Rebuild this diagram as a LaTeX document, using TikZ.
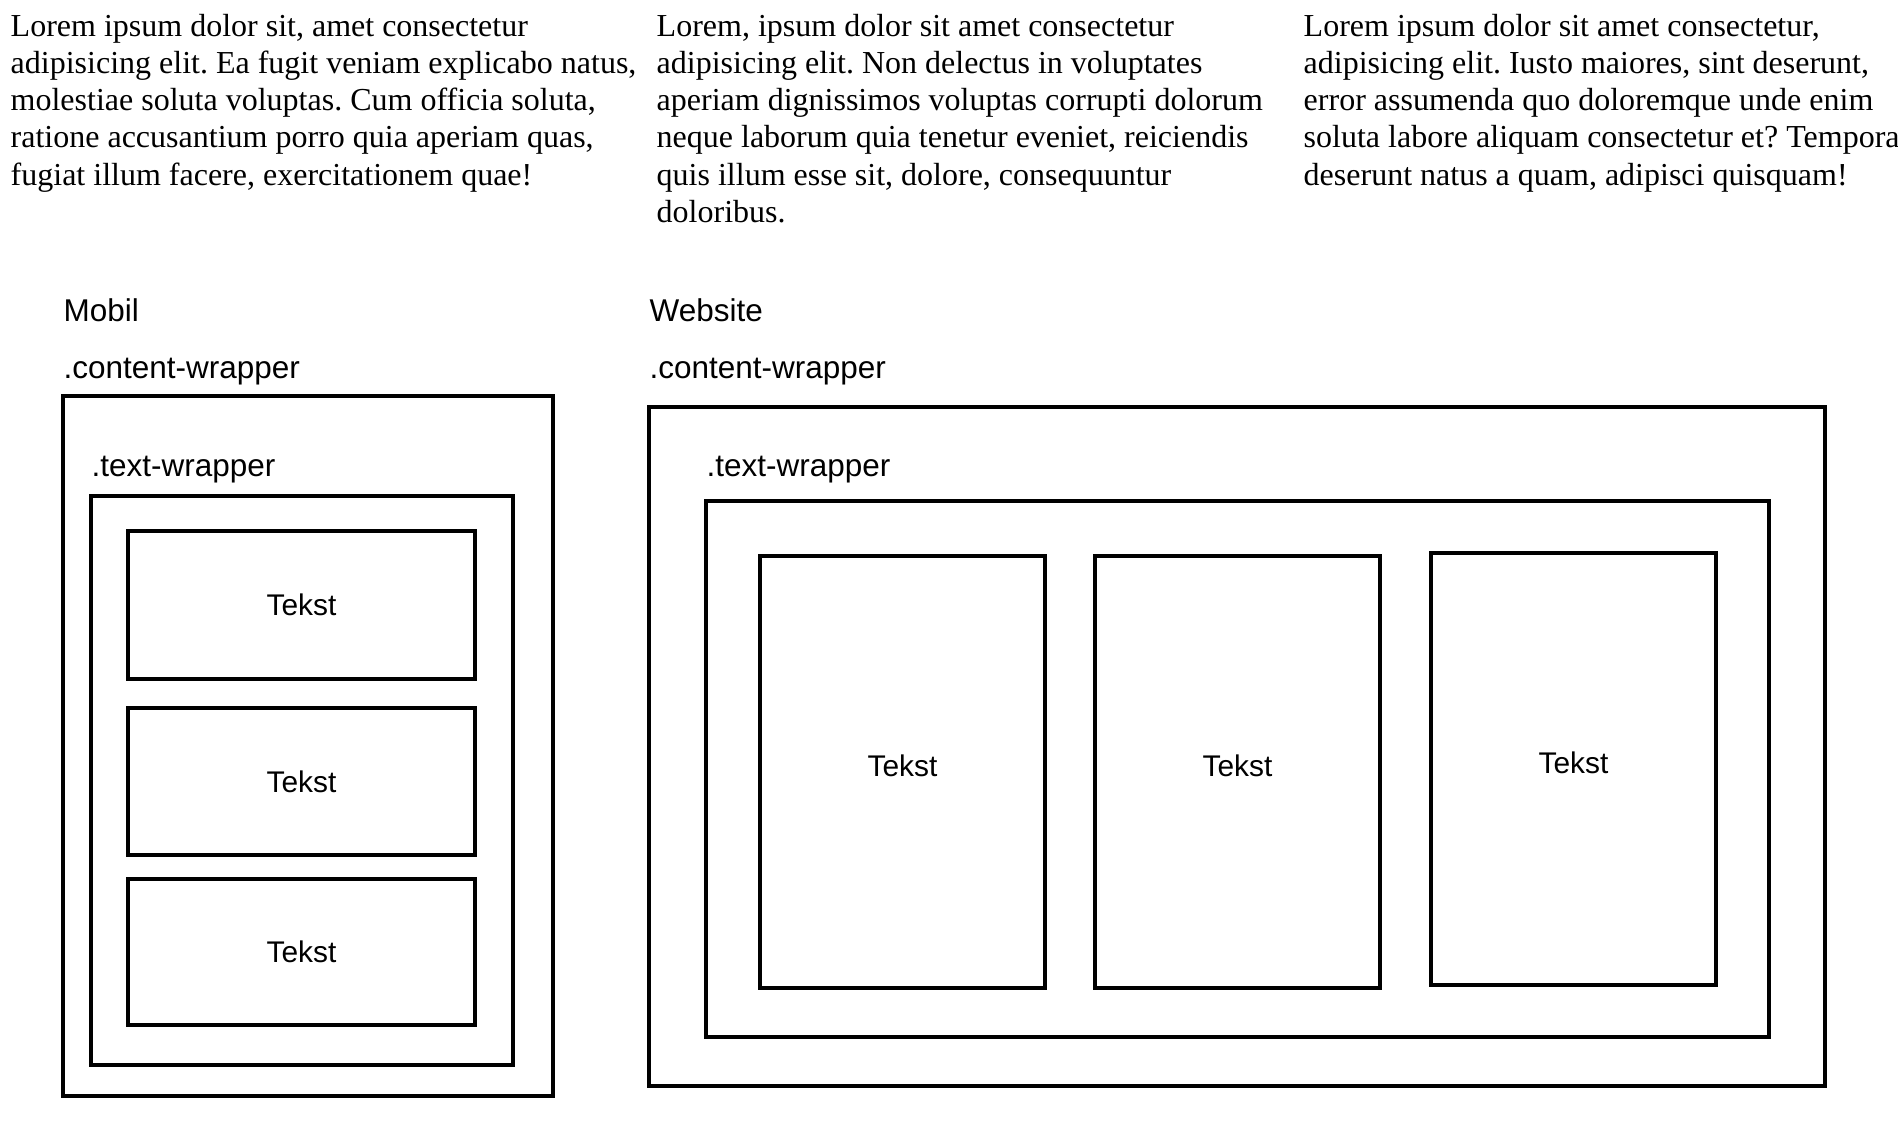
\documentclass[tikz,border=0pt]{standalone}
\usepackage{fontspec}
\setmainfont{Liberation Serif}
\setsansfont{Liberation Sans}
\usetikzlibrary{positioning}
\frenchspacing

\begin{document}
\begin{tikzpicture}[x=0.01cm, y=-0.01cm,
  para/.style={anchor=north west, inner sep=0pt, align=left, font=\fontsize{9.1pt}{10.53pt}\selectfont},
  lbl/.style={anchor=base west, inner sep=0pt, font=\sffamily\fontsize{8.95pt}{10pt}\selectfont},
  wrapbox/.style={draw, line width=1.15pt, inner sep=0pt},
  tekstbox/.style={draw, line width=1.15pt, inner sep=0pt, font=\sffamily\fontsize{8.5pt}{10pt}\selectfont}]
\useasboundingbox (0,0) rectangle (1898,1122);
% three text columns
\node[para] (col1) at (10,14) {Lorem ipsum dolor sit, amet consectetur\\adipisicing elit. Ea fugit veniam explicabo natus,\\molestiae soluta voluptas. Cum officia soluta,\\ratione accusantium porro quia aperiam quas,\\fugiat illum facere, exercitationem quae!};
\node[para] (col2) at (656,14) {Lorem, ipsum dolor sit amet consectetur\\adipisicing elit. Non delectus in voluptates\\aperiam dignissimos voluptas corrupti dolorum\\neque laborum quia tenetur eveniet, reiciendis\\quis illum esse sit, dolore, consequuntur\\doloribus.};
\node[para] (col3) at (1303,14) {Lorem ipsum dolor sit amet consectetur,\\adipisicing elit. Iusto maiores, sint deserunt,\\error assumenda quo doloremque unde enim\\soluta labore aliquam consectetur et? Tempora\\deserunt natus a quam, adipisci quisquam!};
% mobil
\node[lbl] (mtitle) at (63,322) {Mobil};
\node[lbl] (mcontlbl) at (63,379) {.content-wrapper};
\node[wrapbox, minimum width=4.90cm, minimum height=7.00cm] (mcont) at (308,746) {};
\node[lbl] (mtextlbl) at (91,477) {.text-wrapper};
\node[wrapbox, minimum width=4.22cm, minimum height=5.69cm] (mtext) at (302,780.5) {};
\node[tekstbox, minimum width=3.47cm, minimum height=1.48cm] (mtekst1) at (301.5,605) {Tekst};
\node[tekstbox, minimum width=3.47cm, minimum height=1.47cm] (mtekst2) at (301.5,781.5) {Tekst};
\node[tekstbox, minimum width=3.47cm, minimum height=1.46cm] (mtekst3) at (301.5,952) {Tekst};
% website
\node[lbl] (wtitle) at (649,322) {Website};
\node[lbl] (wcontlbl) at (649,379) {.content-wrapper};
\node[wrapbox, minimum width=11.76cm, minimum height=6.79cm] (wcont) at (1237,746.5) {};
\node[lbl] (wtextlbl) at (706,477) {.text-wrapper};
\node[wrapbox, minimum width=10.63cm, minimum height=5.36cm] (wtext) at (1237.5,769) {};
\node[tekstbox, text depth=0.12cm, minimum width=2.85cm, minimum height=4.32cm] (wtekst1) at (902.5,772) {Tekst};
\node[tekstbox, text depth=0.12cm, minimum width=2.84cm, minimum height=4.32cm] (wtekst2) at (1237.5,772) {Tekst};
\node[tekstbox, text depth=0.12cm, minimum width=2.84cm, minimum height=4.32cm] (wtekst3) at (1573.5,769) {Tekst};
\end{tikzpicture}
\end{document}
